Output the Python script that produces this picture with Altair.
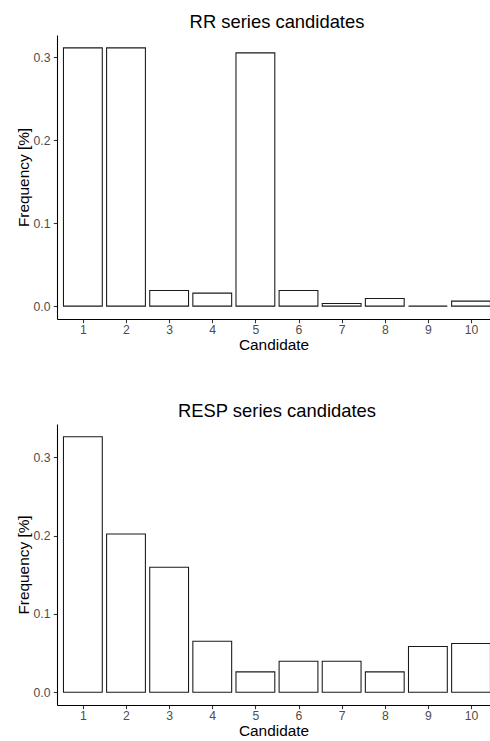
import altair as alt
import pandas as pd

candidates = list(range(1, 11))
rr_freq = [0.311, 0.311, 0.0188, 0.0156, 0.305, 0.0188, 0.0032, 0.0092, 0.0, 0.006]
resp_freq = [0.326, 0.202, 0.1595, 0.065, 0.026, 0.0395, 0.0395, 0.026, 0.0584, 0.0622]
y_ticks = [0.0, 0.1, 0.2, 0.3]
panel_titles = ["RR series candidates", "RESP series candidates"]

FONT = "Liberation Sans"


def panel(values, title, h):
    df = pd.DataFrame({"Candidate": candidates, "Frequency": values})
    ymax = max(values)
    exp = 0.05 * ymax
    return (
        alt.Chart(df)
        .transform_calculate(
            lo="datum.Candidate - 0.45", hi="datum.Candidate + 0.45", base="0"
        )
        .mark_bar(fill="white", stroke="#1a1a1a", strokeWidth=1.07, clip=True)
        .encode(
            x=alt.X(
                "lo:Q",
                scale=alt.Scale(domain=[0.4, 10.44], nice=False, zero=False),
                axis=alt.Axis(values=candidates, format="d", title="Candidate"),
            ),
            x2="hi:Q",
            y=alt.Y(
                "Frequency:Q",
                scale=alt.Scale(domain=[-exp, ymax + exp], nice=False, zero=False),
                axis=alt.Axis(values=y_ticks, format=".1f", title="Frequency [%]"),
            ),
            y2="base:Q",
        )
        .properties(
            width=433,
            height=h,
            title=alt.TitleParams(
                title,
                font=FONT,
                fontSize=18.4,
                fontWeight="normal",
                color="black",
                anchor="middle",
                dx=3.5,
                offset=4,
            ),
        )
    )


chart = (
    alt.vconcat(
        panel(rr_freq, panel_titles[0], 284),
        panel(resp_freq, panel_titles[1], 281),
        spacing=47,
    )
    .properties(
        padding={"left": 16, "top": 12, "right": 0, "bottom": 0}, background="white"
    )
    .configure_view(stroke=None)
    .configure_axis(
        grid=False,
        domainColor="black",
        domainWidth=1.07,
        tickColor="#333333",
        tickSize=3.7,
        tickWidth=1.07,
        labelColor="#4D4D4D",
        labelFont=FONT,
        labelFontSize=12.2,
        titleFont=FONT,
        titleFontSize=15.4,
        titleFontWeight="normal",
        titleColor="black",
    )
    .configure_axisX(labelPadding=0.5, titlePadding=2.5)
    .configure_axisY(labelPadding=3.3, titlePadding=2)
)

chart.save("out.html", embed_options={"renderer": "svg", "actions": False})
